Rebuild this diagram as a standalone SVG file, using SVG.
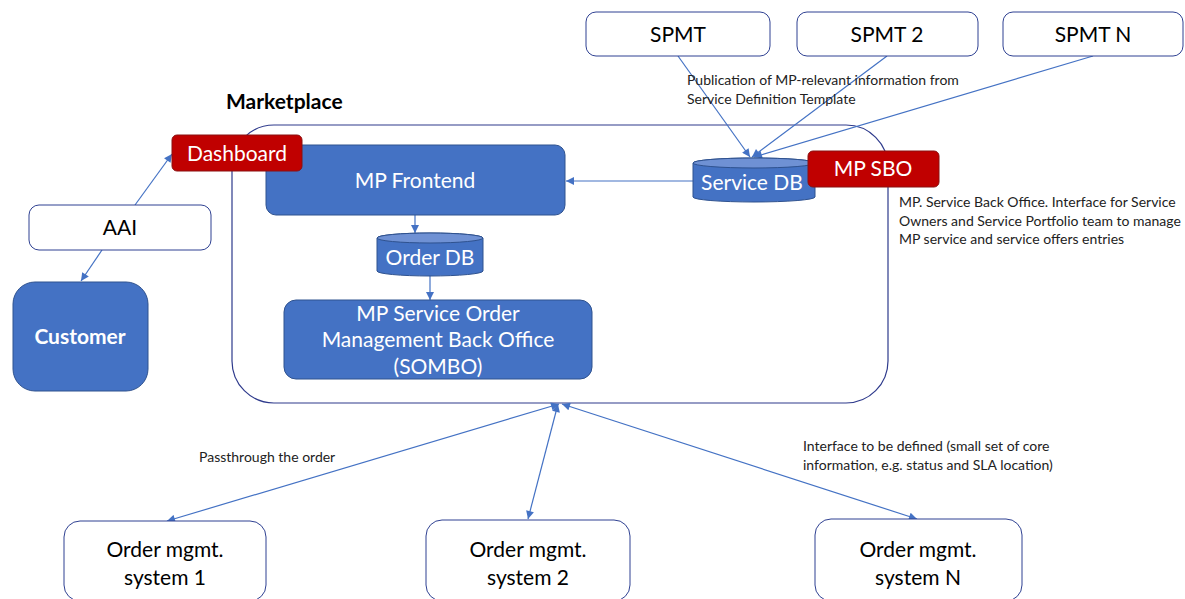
<svg xmlns="http://www.w3.org/2000/svg" width="1185" height="599" viewBox="0 0 1185 599">
<style>
  text { font-family: Lato, "Open Sans", "Liberation Sans", sans-serif; }
  .wbox { fill: #ffffff; stroke: #2F4192; stroke-width: 1; }
  .bbox { fill: #4472C4; stroke: #2F528F; stroke-width: 1; }
  .rbox { fill: #C00000; stroke: #8A1010; stroke-width: 1; }
  .cont { fill: none; stroke: #2E3A8C; stroke-width: 1.2; }
  .lbl { font-size: 21px; fill: #000000; text-anchor: middle; }
  .wlbl { font-size: 21px; fill: #ffffff; text-anchor: middle; }
  .note { font-size: 14px; fill: #222222; }
  .conn { fill: none; stroke: #4472C4; stroke-width: 1.2; }
  .cyltop { fill: #6F91D4; stroke: #2F528F; stroke-width: 1; }
</style>
<defs>
  <marker id="arr" viewBox="0 0 10 10" refX="10" refY="5" markerWidth="9" markerHeight="8" markerUnits="userSpaceOnUse" orient="auto-start-reverse">
    <path d="M0,0 L10,5 L0,10 Z" fill="#4472C4"/>
  </marker>
</defs>

<g id="marketplace">
  <rect class="cont" x="232" y="125" width="656" height="278" rx="42" ry="42"/>
  <text x="226" y="109" style="font-size:21px;font-weight:bold;fill:#000">Marketplace</text>
</g>

<g id="connectors">
  <line class="conn" x1="135" y1="205" x2="172" y2="154" marker-end="url(#arr)"/>
  <line class="conn" x1="102" y1="250" x2="81" y2="281" marker-end="url(#arr)"/>
  <line class="conn" x1="693" y1="181" x2="566" y2="181" marker-end="url(#arr)"/>
  <line class="conn" x1="678" y1="56" x2="750" y2="157" marker-end="url(#arr)"/>
  <line class="conn" x1="887" y1="56" x2="752" y2="157" marker-end="url(#arr)"/>
  <line class="conn" x1="1093" y1="56" x2="754" y2="157" marker-end="url(#arr)"/>
  <line class="conn" x1="415" y1="215" x2="415" y2="233" marker-end="url(#arr)"/>
  <line class="conn" x1="430" y1="276" x2="430" y2="300" marker-end="url(#arr)"/>
  <line class="conn" x1="559" y1="404" x2="167" y2="521" marker-start="url(#arr)" marker-end="url(#arr)"/>
  <line class="conn" x1="558" y1="404" x2="528" y2="519" marker-start="url(#arr)" marker-end="url(#arr)"/>
  <line class="conn" x1="562" y1="404" x2="917" y2="519" marker-start="url(#arr)" marker-end="url(#arr)"/>
</g>

<g id="spmt">
  <rect class="wbox" x="586" y="12" width="184" height="44" rx="10"/>
  <text class="lbl" x="678" y="42">SPMT</text>
</g>
<g id="spmt2">
  <rect class="wbox" x="797" y="12" width="181" height="44" rx="10"/>
  <text class="lbl" x="887" y="42">SPMT 2</text>
</g>
<g id="spmtn">
  <rect class="wbox" x="1003" y="12" width="180" height="44" rx="10"/>
  <text class="lbl" x="1093" y="42">SPMT N</text>
</g>

<g id="publication-note">
  <text class="note" x="687" y="85">Publication of MP-relevant information from</text>
  <text class="note" x="687" y="104">Service Definition Template</text>
</g>

<g id="aai">
  <rect class="wbox" x="29" y="205" width="182" height="45" rx="10"/>
  <text class="lbl" x="120" y="235">AAI</text>
</g>

<g id="customer">
  <rect class="bbox" x="13" y="282" width="135" height="109" rx="22"/>
  <text class="wlbl" x="80" y="344" style="font-weight:bold">Customer</text>
</g>

<g id="mp-frontend">
  <rect class="bbox" x="266" y="145" width="299" height="70" rx="10"/>
  <text class="wlbl" x="415" y="188">MP Frontend</text>
</g>

<g id="dashboard">
  <rect class="rbox" x="172" y="135" width="130" height="36" rx="5"/>
  <text class="wlbl" x="237" y="161">Dashboard</text>
</g>

<g id="order-db">
  <path class="bbox" d="M377,238 L377,271 A53,5 0 0 0 483,271 L483,238 A53,5 0 0 0 377,238 Z"/>
  <ellipse class="cyltop" cx="430" cy="238" rx="53" ry="5"/>
  <text class="wlbl" x="430" y="265">Order DB</text>
</g>

<g id="sombo">
  <rect class="bbox" x="284" y="300" width="308" height="79" rx="12"/>
  <text class="wlbl" x="438" y="321">MP Service Order</text>
  <text class="wlbl" x="438" y="347">Management Back Office</text>
  <text class="wlbl" x="438" y="374">(SOMBO)</text>
</g>

<g id="service-db">
  <path class="bbox" d="M693,163 L693,197 A61,5 0 0 0 815,197 L815,163 A61,5 0 0 0 693,163 Z"/>
  <ellipse class="cyltop" cx="754" cy="163" rx="61" ry="5"/>
  <text class="wlbl" x="752" y="190">Service DB</text>
</g>

<g id="mp-sbo">
  <rect class="rbox" x="808" y="151" width="131" height="36" rx="5"/>
  <text class="wlbl" x="873" y="176">MP SBO</text>
</g>

<g id="sbo-note">
  <text class="note" x="899" y="207">MP. Service Back Office. Interface for Service</text>
  <text class="note" x="899" y="226">Owners and Service Portfolio team to manage</text>
  <text class="note" x="899" y="244">MP service and service offers entries</text>
</g>

<g id="passthrough-note">
  <text class="note" x="199" y="462">Passthrough the order</text>
</g>

<g id="interface-note">
  <text class="note" x="803" y="451">Interface to be defined (small set of core</text>
  <text class="note" x="803" y="470">information, e.g. status and SLA location)</text>
</g>

<g id="oms1">
  <rect class="wbox" x="64" y="521" width="202" height="80" rx="16"/>
  <text class="lbl" x="165" y="557">Order mgmt.</text>
  <text class="lbl" x="165" y="585">system 1</text>
</g>
<g id="oms2">
  <rect class="wbox" x="426" y="520" width="204" height="81" rx="16"/>
  <text class="lbl" x="528" y="557">Order mgmt.</text>
  <text class="lbl" x="528" y="585">system 2</text>
</g>
<g id="omsn">
  <rect class="wbox" x="815" y="519" width="207" height="82" rx="16"/>
  <text class="lbl" x="918" y="557">Order mgmt.</text>
  <text class="lbl" x="918" y="585">system N</text>
</g>
</svg>
